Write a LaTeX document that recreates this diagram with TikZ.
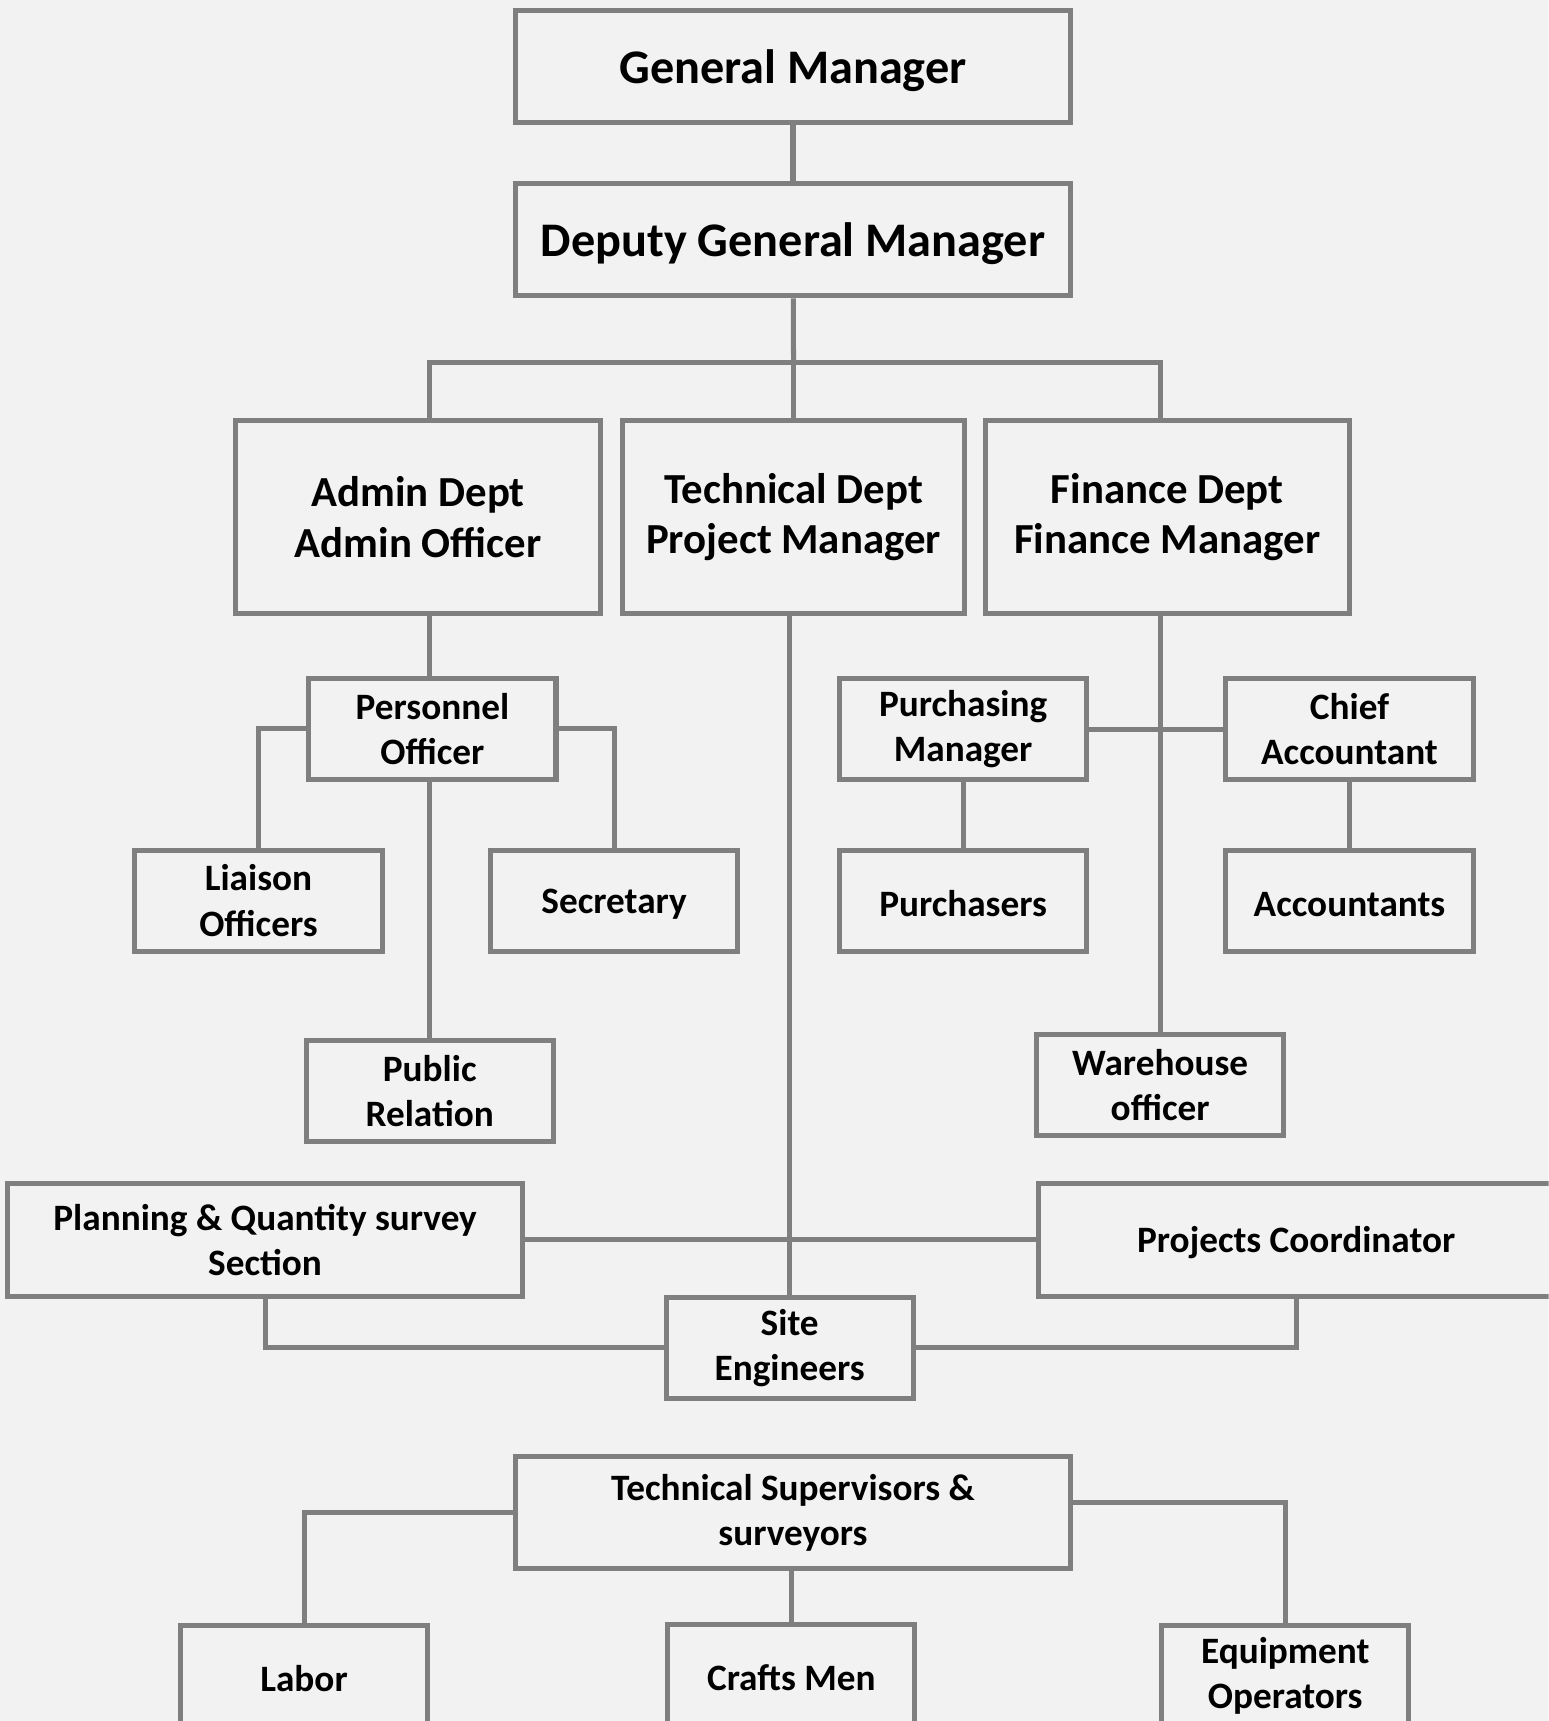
\documentclass[tikz,border=0pt]{standalone}
\usepackage{fontspec}
\setmainfont{Carlito}
\usepackage{tikz}
\usetikzlibrary{positioning}
\definecolor{bggray}{HTML}{F2F2F2}
\definecolor{linegray}{HTML}{7F7F7F}
\tikzset{every picture/.style={line width=1.3pt}}
\tikzstyle{box}=[draw=linegray,fill=bggray,align=center,inner sep=1pt,text=black,execute at begin node={\rule{0pt}{0.85em}}]
\tikzstyle{bigbox}=[box,minimum width=5.05cm,minimum height=1.02cm,font=\bfseries\fontsize{12.5}{14.6}\selectfont]
\tikzstyle{deptbox}=[box,minimum height=1.76cm,font=\bfseries\fontsize{11.1}{13.1}\selectfont]
\tikzstyle{smallbox}=[box,minimum width=2.25cm,minimum height=0.92cm,font=\bfseries\fontsize{9.65}{11.7}\selectfont]
\tikzstyle{link}=[draw=linegray,line width=1.3pt]

\begin{document}
\begin{tikzpicture}
  [x=0.01cm,y=-0.01cm]
\useasboundingbox (0,0) rectangle (1411,1568);
\clip (0,0) rectangle (1411,1568);
\fill[bggray] (0,0) rectangle (1411,1568);
% top
\node[bigbox] (gm) at (722.5,61) {General Manager};
\node[bigbox] (dgm) at (722.5,218.5) {Deputy General Manager};
\node[deptbox,minimum width=3.32cm] (admin) at (381,471) {Admin Dept\\Admin Officer};
\node[deptbox,minimum width=3.12cm] (tech) at (723,471) {Technical Dept\\Project Manager};
\node[deptbox,minimum width=3.31cm] (fin) at (1063.5,471) {Finance Dept\\Finance Manager};
% admin side
\node[smallbox] (pers) at (394,664) {Personnel\\Officer};
\node[smallbox] (liaison) at (235.5,820.5) {Liaison\\Officers};
\node[smallbox] (secr) at (559.5,820.5) {Secretary};
\node[smallbox] (pubrel) at (391.5,994) {Public\\Relation};
% finance side
\node[smallbox] (purch) at (877.5,664.5) {Purchasing\\Manager};
\node[smallbox] (chief) at (1229.5,664.5) {Chief\\Accountant};
\node[smallbox] (purchasers) at (877.5,820.5) {Purchasers};
\node[smallbox] (accts) at (1229.5,820.5) {Accountants};
\node[smallbox] (wareh) at (1057,988.5) {Warehouse\\officer};
% site
\node[smallbox,minimum width=4.69cm,minimum height=1.03cm] (plan) at (241.5,1129.5) {Planning \& Quantity survey\\Section};
\node[smallbox,minimum width=4.70cm,minimum height=1.03cm] (projc) at (1181,1129.5) {Projects Coordinator};
\node[smallbox] (site) at (719.5,1228) {Site\\Engineers};
% bottom
\node[smallbox,minimum width=5.05cm,minimum height=1.02cm] (tsup) at (722.5,1378) {Technical Supervisors \&\\surveyors};
\node[smallbox] (labor) at (277,1527) {Labor};
\node[smallbox] (crafts) at (721,1526) {Crafts Men};
\node[smallbox] (equip) at (1171,1527) {Equipment\\Operators};

\coordinate (bus) at (723,330);
\draw[link] (gm) -- (dgm);
\draw[link] (dgm) -- (bus);
\draw[link] (bus) -| (pubrel |- admin.north);
\draw[link] (bus) -| (wareh |- fin.north);
\draw[link] (bus) -- (tech);
\draw[link] (admin.south -| pubrel) -- (pubrel |- pers.north);
\draw[link] (pers.west) -| (liaison);
\draw[link] (pers.east) -| (secr);
\draw[link] (pers.south -| pubrel) -- (pubrel);
\draw[link] (fin.south -| wareh) -- (wareh);
\draw[link] (purch.east) -- (chief.west);
\draw[link] (purch) -- (purchasers);
\draw[link] (chief) -- (accts);
\draw[link] (tech.south -| site) -- (site);
\draw[link] (plan.east) -- (projc.west);
\draw[link] (plan.south) |- (site.west);
\draw[link] (projc.south) |- (site.east);
\draw[link] (tsup.west) -| (labor);
\draw[link] ([yshift=2.6pt]tsup.east) -| (equip);
\draw[link] (tsup.south -| crafts) -- (crafts);
\end{tikzpicture}
\end{document}
